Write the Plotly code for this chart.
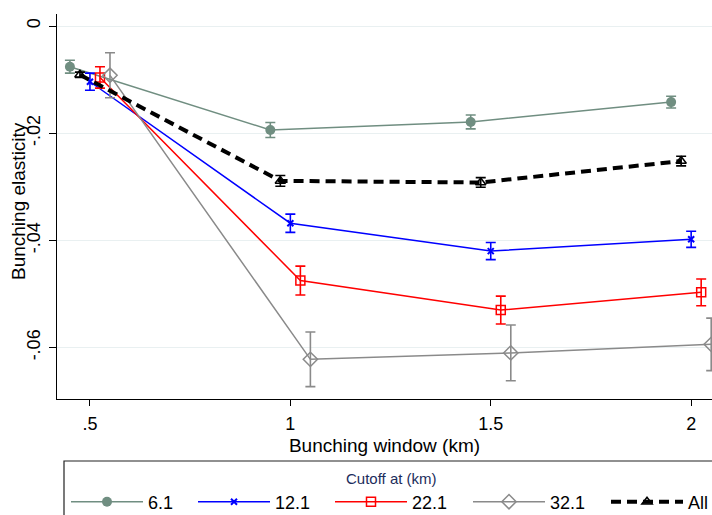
import plotly.graph_objects as go

# ---- data ----
windows = [0.5, 1.0, 1.5, 2.0]
cutoffs = ["6.1", "12.1", "22.1", "32.1", "All"]
dodge = [-0.05, 0.0, 0.025, 0.05, -0.025]

est_61 = [-0.0076, -0.0194, -0.0179, -0.0142]
ci_61 = [0.0012, 0.0014, 0.0013, 0.0011]
est_121 = [-0.0104, -0.0368, -0.0420, -0.0398]
ci_121 = [0.0016, 0.0017, 0.0016, 0.0015]
est_221 = [-0.0096, -0.0475, -0.0530, -0.0497]
ci_221 = [0.0020, 0.0027, 0.0026, 0.0025]
est_321 = [-0.0092, -0.0622, -0.0610, -0.0594]
ci_321 = [0.0042, 0.0051, 0.0052, 0.0049]
est_all = [-0.0091, -0.0289, -0.0292, -0.0252]
ci_all = [0.0005, 0.0010, 0.0009, 0.0009]

xticks = [0.5, 1.0, 1.5, 2.0]
xtick_text = [".5", "1", "1.5", "2"]
yticks = [0, -0.02, -0.04, -0.06]
ytick_text = ["0", "-.02", "-.04", "-.06"]

FONT = "Liberation Sans, Arial, sans-serif"

series = [
    dict(est=est_61, ci=ci_61, color="#708e81", symbol="circle", size=10, lw=1.5, dash="solid", mlw=0),
    dict(est=est_121, ci=ci_121, color="#0000ff", symbol="x-thin", size=6, lw=1.5, dash="solid", mlw=2),
    dict(est=est_221, ci=ci_221, color="#ff0000", symbol="square-open", size=9, lw=1.5, dash="solid", mlw=1.5),
    dict(est=est_321, ci=ci_321, color="#8a8a8a", symbol="diamond-open", size=11, lw=1.5, dash="solid", mlw=1.5),
    dict(est=est_all, ci=ci_all, color="#000000", symbol="triangle-up-open", size=9, lw=4, dash="10px,6px", mlw=1.5),
]

legend_x_px = [66, 193, 330, 468, 606]

fig = go.Figure()
for i, s in enumerate(series):
    xs = [w + dodge[i] for w in windows]
    lname = "legend" if i == 0 else f"legend{i+1}"
    fig.add_trace(go.Scatter(
        x=xs, y=s["est"], mode="lines+markers", name=cutoffs[i],
        line=dict(color=s["color"], width=s["lw"], dash=s["dash"]),
        marker=dict(symbol=s["symbol"], size=s["size"], color=s["color"],
                    line=dict(color=s["color"], width=s["mlw"])),
        error_y=dict(type="data", array=s["ci"], visible=True,
                     color=s["color"], thickness=1.6, width=5),
        legend=lname, showlegend=True,
    ))

W, H = 712, 515
L, T, B = 57, 14, 116
pw = W - L
ph = H - T - B

def px_x(p):
    return (p - L) / pw

def px_y(p):
    return (H - B - p) / ph

legends = {}
for i in range(5):
    key = "legend" if i == 0 else f"legend{i+1}"
    legends[key] = dict(
        x=px_x(legend_x_px[i]), y=px_y(502), xanchor="left", yanchor="middle",
        orientation="h", bgcolor="rgba(0,0,0,0)", borderwidth=0,
        font=dict(family=FONT, size=18, color="#000000"), itemwidth=72,
    )

fig.update_layout(
    width=W, height=H,
    margin=dict(l=L, r=0, t=T, b=B, autoexpand=False),
    paper_bgcolor="white", plot_bgcolor="white",
    font=dict(family=FONT, size=18, color="#000000"),
    showlegend=True,
    **legends,
    xaxis=dict(
        range=[0.4178, 2.052], tickmode="array", tickvals=xticks, ticktext=xtick_text,
        showgrid=False, zeroline=False, showline=True, linecolor="black", linewidth=1.3,
        ticks="outside", ticklen=6, tickcolor="black", tickwidth=1.3,
        tickfont=dict(family=FONT, size=18), ticklabelstandoff=2,
        title=dict(text="Bunching window (km)", font=dict(family=FONT, size=19), standoff=5),
    ),
    yaxis=dict(
        range=[-0.0696, 0.00224], tickmode="array", tickvals=yticks, ticktext=ytick_text,
        showgrid=True, gridcolor="#e9f0f1", gridwidth=1.2, zeroline=False,
        showline=True, linecolor="black", linewidth=1.3,
        ticks="outside", ticklen=7, tickcolor="black", tickwidth=1.3, tickangle=-90,
        tickfont=dict(family=FONT, size=18), ticklabelstandoff=2,
    ),
    shapes=[dict(type="rect", xref="paper", yref="paper",
                 x0=px_x(64), x1=1.2, y0=px_y(461), y1=px_y(560),
                 line=dict(color="#222222", width=1.2), fillcolor="rgba(0,0,0,0)", layer="above")],
    annotations=[
        dict(text="Cutoff at (km)", xref="paper", yref="paper",
             x=px_x(391), y=px_y(478), xanchor="center", yanchor="middle",
             showarrow=False, font=dict(family=FONT, size=15, color="#1c2d5c")),
        dict(text="Bunching elasticity", xref="paper", yref="paper",
             x=px_x(18), y=px_y(201), xanchor="center", yanchor="middle", textangle=-90,
             showarrow=False, font=dict(family=FONT, size=19, color="#000000")),
    ],
)

fig.write_html("out.html")
